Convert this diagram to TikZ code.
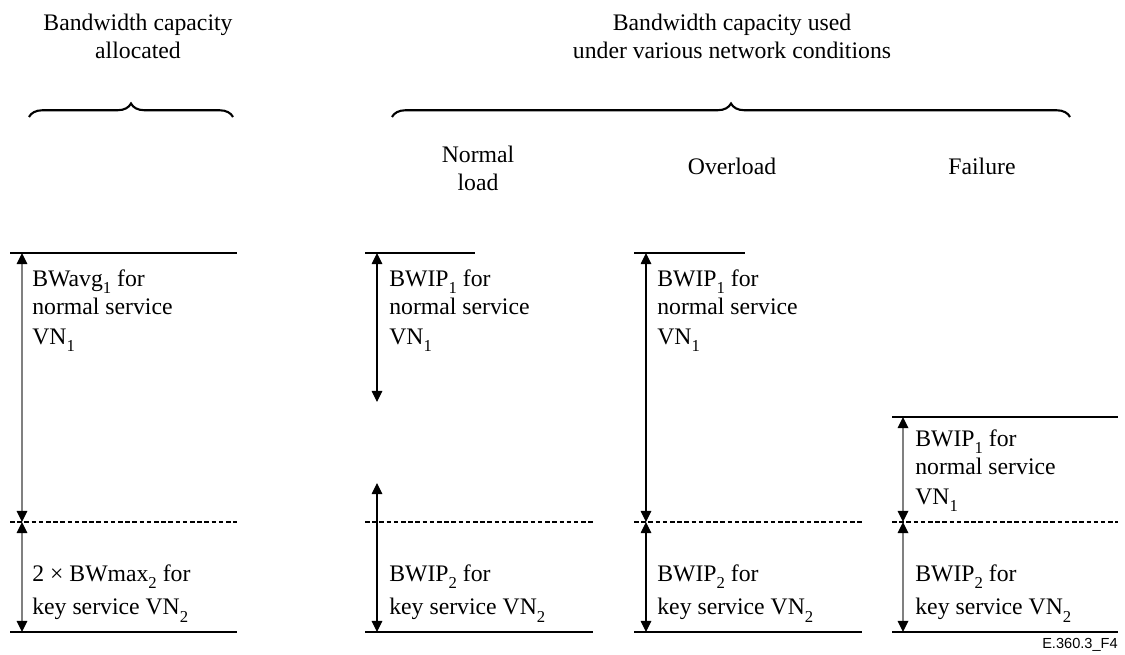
\documentclass[tikz,border=0pt]{standalone}
\usepackage{fontspec}
\setmainfont{Liberation Serif}
\newfontfamily\figsans{Liberation Sans}
\usetikzlibrary{arrows.meta,decorations.pathreplacing}
\newcommand\lowix[1]{\raisebox{-0.32em}{\fontsize{9.5}{9.5}\selectfont #1}}

\begin{document}
\begin{tikzpicture}[
  x=0.02cm, y=-0.02cm,
  every node/.style={font=\fontsize{13.5}{16}\selectfont, inner sep=0pt},
  lbl/.style ={anchor=north west, align=left},
  hdr/.style ={anchor=north, align=center},
  lvl/.style ={line width=1.1pt},
  split/.style={line width=0.8pt, dash pattern=on 2.6pt off 1.5pt},
  span/.style={line width=0.6pt, <->,
               >={Triangle[length=6.3pt, width=6pt, color=black]}},
  spang/.style={span, draw=gray, line width=0.9pt},
  brc/.style ={decorate, decoration={brace, amplitude=0.27cm}, line width=1.2pt}
]
\useasboundingbox (0,0) rectangle (1125,655);

%% headings
\node[hdr] (alloc) at (138,14)  {Bandwidth capacity\\allocated};
\node[hdr] (used)  at (732,14)  {Bandwidth capacity used\\under various network conditions};
\draw[brc] (29,117) -- (233,117);
\draw[brc] (392,117) -- (1070,117);
\node[hdr] (normal)        at (478,146) {Normal\\load};
\node[anchor=base] (over)  at (732,175) {Overload};
\node[anchor=base] (fail)  at (982,175) {Failure};

%% capacity levels
\foreach \l/\r in {10/237,365/475,634/745}
  \draw[lvl] (\l,253) -- (\r,253);
\draw[lvl] (892,417) -- (1118,417);
\foreach \l/\r in {10/237,365/593,634/862,892/1118}{
  \draw[split] (\l,522) -- (\r,522);
  \draw[lvl]   (\l,632) -- (\r,632);
}

%% arrow ends
\coordinate (a1) at (22,253);  \coordinate (a2) at (22,522);  \coordinate (a3) at (22,632);
\coordinate (b1) at (377,253); \coordinate (b2) at (377,402);
\coordinate (b3) at (377,483); \coordinate (b4) at (377,632);
\coordinate (c1) at (646,253); \coordinate (c2) at (646,522); \coordinate (c3) at (646,632);
\coordinate (d1) at (903,417); \coordinate (d2) at (903,522); \coordinate (d3) at (903,632);

%% arrows
\foreach \a/\b in {a1/a2,a2/a3,d1/d2,d2/d3}
  \draw[spang] (\a) -- (\b);
\foreach \a/\b in {b1/b2,b3/b4,c1/c2,c2/c3}
  \draw[span] (\a) -- (\b);

%% shares
\node[lbl] (avg1) at (32,269)  {BWavg\lowix{1} for\\normal service\\[1pt]VN\lowix{1}};
\node[lbl] (ipn1) at (389,269) {BWIP\lowix{1} for\\normal service\\[1pt]VN\lowix{1}};
\node[lbl] (ipo1) at (657,269) {BWIP\lowix{1} for\\normal service\\[1pt]VN\lowix{1}};
\node[lbl] (ipf1) at (915,429) {BWIP\lowix{1} for\\normal service\\[1pt]VN\lowix{1}};
\node[lbl] (max2) at (32,564)  {2 × BWmax\lowix{2} for\\[3pt]key service VN\lowix{2}};
\node[lbl] (ipn2) at (389,564) {BWIP\lowix{2} for\\[3pt]key service VN\lowix{2}};
\node[lbl] (ipo2) at (657,564) {BWIP\lowix{2} for\\[3pt]key service VN\lowix{2}};
\node[lbl] (ipf2) at (915,564) {BWIP\lowix{2} for\\[3pt]key service VN\lowix{2}};

\node[anchor=east, font=\figsans\fontsize{8.3}{10}\selectfont] (tag) at (1118,645) {E.360.3\_F4};
\end{tikzpicture}
\end{document}
